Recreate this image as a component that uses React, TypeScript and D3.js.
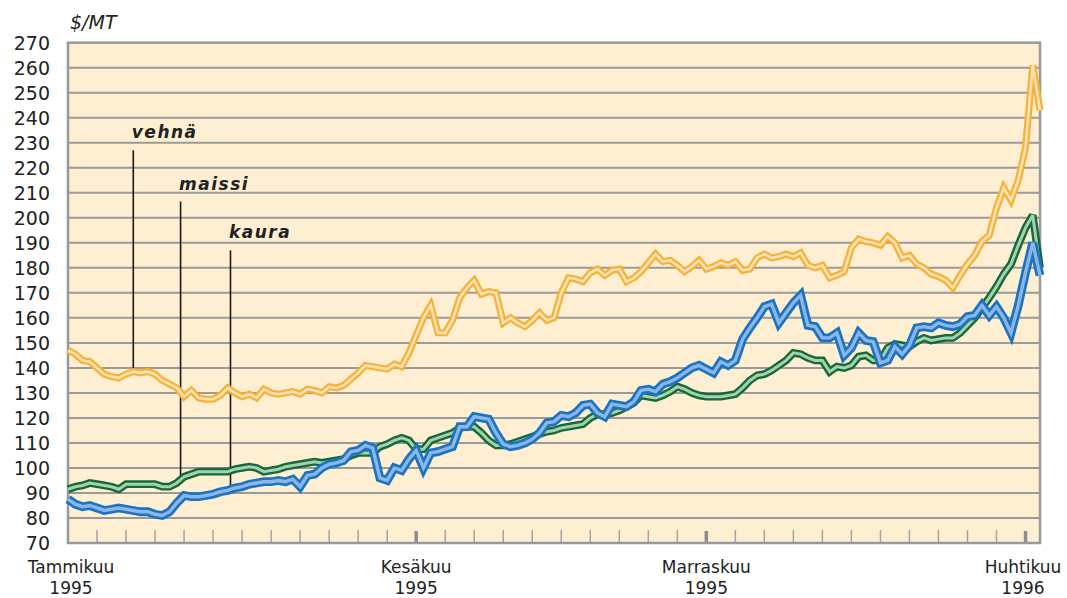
import React from "react";
import * as d3 from "d3";

// Sampled every quarter of an axis tick (tick units), from January 1995
const STEP = 0.25;

const vehna: number[] = [
  147, 145.5, 143, 142.5, 140, 137.5, 136.5, 136, 137.5, 138.5,
  138, 138.5, 137.5, 135, 133.5, 132, 128.5, 131, 128, 127.5,
  127.5, 129, 132, 130, 128.5, 129.5, 128, 131.5, 130, 129.5,
  130, 130.5, 129.5, 131.5, 131, 130, 132.5, 132, 133, 135.5,
  138, 141, 140.5, 140, 139.5, 141.5, 140.5, 146, 153, 160,
  165, 154, 154, 159, 168, 172, 175, 169.5, 170.5, 170,
  158, 160, 158, 156.5, 159, 162, 159, 160, 170, 176,
  175.5, 174.5, 178, 179.5, 177, 179, 179.5, 174.5, 176, 178.5,
  182, 185.5, 182.5, 183, 181, 178.5, 180.5, 183, 179.5, 180.5,
  182, 181, 182.5, 179, 179.5, 184, 185.5, 184, 184.5, 185.5,
  184.5, 186, 181, 180, 181, 176, 177, 178.5, 188, 191.5,
  190.5, 190, 189, 192.5, 190, 184, 185, 181.5, 180, 177.5,
  176.5, 175, 172, 177, 181.5, 185, 190.5, 193, 204, 212,
  207, 215, 228, 261, 243,
];

const maissi: number[] = [
  91.5, 92.5, 93, 94, 93.5, 93, 92.5, 91.5, 93.5, 93.5,
  93.5, 93.5, 93.5, 92.5, 92.5, 94, 96.5, 97.5, 98.5, 98.5,
  98.5, 98.5, 98.5, 99.5, 100, 100.5, 100, 98.5, 99, 99.5,
  100.5, 101, 101.5, 102, 102.5, 102, 102.5, 103, 103.5, 105,
  106, 106, 106, 108.5, 109.5, 111, 112, 111, 107.5, 107.5,
  111, 112, 113, 114, 116, 116.5, 116.5, 114, 111, 109,
  109, 109.5, 110.5, 111.5, 112.5, 113.5, 114.5, 115, 116, 116.5,
  117, 117.5, 120, 121.5, 121.5, 122, 123, 124.5, 126, 129,
  128.5, 128, 129, 130.5, 132.5, 131.5, 130, 129, 128.5, 128.5,
  128.5, 129, 129.5, 132, 135, 137, 137.5, 139, 141, 143,
  146, 145.5, 144, 143, 143, 138.5, 140.5, 140, 141, 144.5,
  145, 143, 143, 148, 149.5, 149, 148.5, 150.5, 152, 151,
  151.5, 152, 152, 154, 157, 160, 164, 168, 172.5, 177.5,
  181.5, 189, 196, 201, 180,
];

const kaura: number[] = [
  87.5, 85.5, 84.5, 85, 84, 83, 83.5, 84, 83.5, 83,
  82.5, 82.5, 81.5, 81, 82.5, 86, 89, 88.5, 88.5, 89,
  89.5, 90.5, 91, 92, 92.5, 93.5, 94, 94.5, 94.5, 95,
  94.5, 95.5, 92.5, 97, 97.5, 100, 101.5, 102, 103, 106.5,
  107, 109, 108, 96, 95, 100, 99, 103.5, 107, 100,
  106, 106.5, 107.5, 108.5, 116.5, 116.5, 120.5, 120, 119.5, 114,
  109.5, 108.5, 109, 110, 111.5, 114, 118, 118.5, 121, 120.5,
  122, 125, 125.5, 122, 120.5, 125.5, 125, 124.5, 126.5, 131,
  131.5, 130.5, 133.5, 134.5, 136, 138, 140, 141, 139.5, 138,
  142.5, 141, 143, 151.5, 156, 160, 164.5, 165.5, 158, 162,
  166, 169, 157, 156.5, 152, 152, 154, 145, 148, 154,
  151, 150.5, 142, 143, 148.5, 145.5, 149, 156, 156.5, 156,
  158, 157, 156.5, 157.5, 160.5, 161, 165, 161, 164.5, 160,
  154, 165, 178, 190, 177,
];

const yTicks: number[] = [70, 80, 90, 100, 110, 120, 130, 140, 150, 160, 170, 180, 190, 200, 210, 220, 230, 240, 250, 260, 270];
const xTickCount = 33;
const majorTicks: number[] = [12, 22, 33];
const monthLabels: { t: number; month: string; year: string }[] = [
  { t: 0, month: "Tammikuu", year: "1995" },
  { t: 12, month: "Kesäkuu", year: "1995" },
  { t: 22, month: "Marraskuu", year: "1995" },
  { t: 33, month: "Huhtikuu", year: "1996" },
];

const annoNames = ["vehnä", "maissi", "kaura"];
const annoT = [2.25, 3.88, 5.6];
const annoTop = [227, 206.5, 187];

const W = 1067;
const H = 598;
const left = 68;
const right = 1040;
const top = 42.7;
const bottom = 543;

const x = d3.scaleLinear().domain([0, 33.5]).range([left, right]);
const y = d3.scaleLinear().domain([70, 270]).range([bottom, top]);

const line = d3
  .line<number>()
  .x((_, i) => x(i * STEP))
  .y((v) => y(v))
  .curve(d3.curveLinear);

const seriesDefs = [
  { data: vehna, outer: "#F7B133", inner: "#FCE1B9", ow: 7, iw: 2.6 },
  { data: maissi, outer: "#17693A", inner: "#A3D2B1", ow: 7.8, iw: 3 },
  { data: kaura, outer: "#1A74C0", inner: "#8DB6E8", ow: 8.8, iw: 3.4 },
];

const annoSeries = [vehna, maissi, kaura];

const valueAt = (arr: number[], t: number) => {
  const k = t / STEP;
  const i0 = Math.floor(k);
  const i1 = Math.min(arr.length - 1, i0 + 1);
  const f = k - i0;
  return arr[i0] * (1 - f) + arr[i1] * f;
};

const axisFont = "'DejaVu Sans', sans-serif";

export default function App() {
  const minorTicks = d3.range(1, xTickCount + 1).filter((t) => !majorTicks.includes(t));
  return (
    <svg width={W} height={H} style={{ position: "absolute", left: 0, top: 0, background: "#fff" }}>
      <rect x={left} y={top} width={right - left} height={bottom - top} fill="#FEEFD3" />
      {/* grid */}
      {yTicks
        .filter((v) => v > 70 && v < 270)
        .map((v) => (
          <line key={v} x1={left} x2={right} y1={y(v)} y2={y(v)} stroke="#9A9A9A" strokeWidth={2} />
        ))}
      {/* x ticks */}
      {minorTicks.map((t) => (
        <line key={t} x1={x(t)} x2={x(t)} y1={bottom - 13} y2={bottom} stroke="#A3A3A3" strokeWidth={1.5} />
      ))}
      {majorTicks.map((t) => (
        <line key={"M" + t} x1={x(t)} x2={x(t)} y1={bottom - 12} y2={bottom} stroke="#8C8C8C" strokeWidth={3.5} />
      ))}
      {/* frame */}
      <rect x={left} y={top} width={right - left} height={bottom - top} fill="none" stroke="#999" strokeWidth={2.5} />
      {/* annotation pointers */}
      {annoNames.map((n, i) => {
        const px = x(annoT[i]);
        const yb = y(valueAt(annoSeries[i], annoT[i])) - 3.5;
        return (
          <g key={n}>
            <line x1={px} x2={px} y1={y(annoTop[i])} y2={yb} stroke="#1a1a1a" strokeWidth={1.6} />
            <text
              x={px - 1.5}
              y={y(annoTop[i]) - 12}
              fontFamily={axisFont}
              fontSize={17}
              fontWeight="bold"
              fontStyle="italic"
              letterSpacing={1.5}
              fill="#222"
            >
              {n}
            </text>
          </g>
        );
      })}
      {/* series */}
      {seriesDefs.map((s, i) => (
        <g key={i}>
          <path d={line(s.data) || ""} fill="none" stroke={s.outer} strokeWidth={s.ow} strokeLinejoin="miter" strokeMiterlimit={3} />
          <path d={line(s.data) || ""} fill="none" stroke={s.inner} strokeWidth={s.iw} strokeLinejoin="miter" strokeMiterlimit={3} />
        </g>
      ))}
      {/* y labels */}
      {yTicks.map((v) => (
        <text key={v} x={50} y={y(v) + 7} textAnchor="end" fontFamily={axisFont} fontSize={19} fill="#222">
          {v}
        </text>
      ))}
      <text x={70} y={29} fontFamily={axisFont} fontSize={19} fontStyle="italic" fill="#222">
        $/MT
      </text>
      {/* x labels */}
      {monthLabels.map((m) => {
        const cx = Math.max(71, Math.min(1023, x(m.t)));
        return (
          <g key={m.month}>
            <text x={cx} y={573} textAnchor="middle" fontFamily={axisFont} fontSize={17} fill="#222">
              {m.month}
            </text>
            <text x={cx} y={593.5} textAnchor="middle" fontFamily={axisFont} fontSize={17} fill="#222">
              {m.year}
            </text>
          </g>
        );
      })}
    </svg>
  );
}
